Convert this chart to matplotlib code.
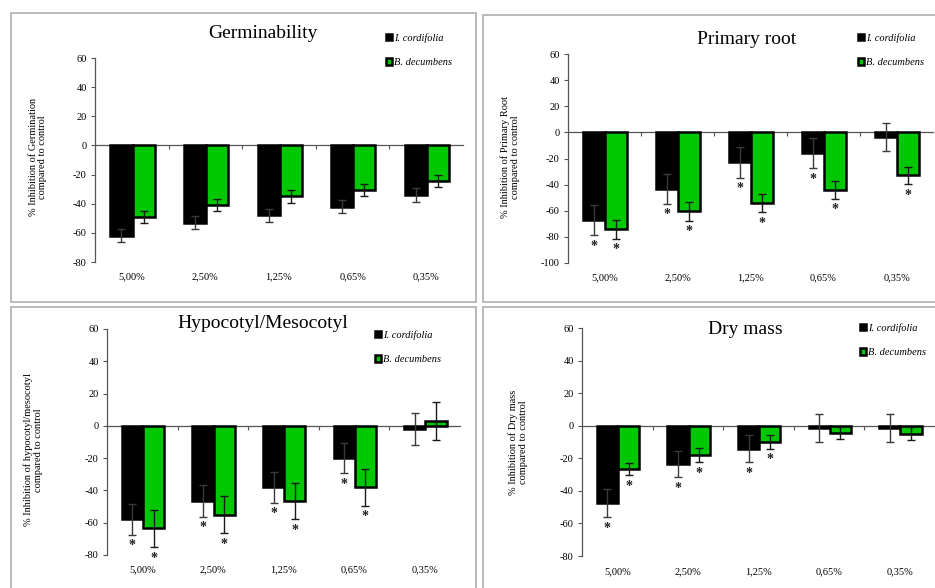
import matplotlib
matplotlib.use("Agg")
import matplotlib.pyplot as plt
from matplotlib.patches import Rectangle
import numpy as np

plt.rcParams['font.family'] = ['Liberation Serif', 'DejaVu Serif']
plt.rcParams['axes.unicode_minus'] = False

# concentrations
cats = ['5,00%', '2,50%', '1,25%', '0,65%', '0,35%']
species = ['I. cordifolia', 'B. decumbens']

# Germinability
germ_ic = [-62, -53, -48, -42, -34]
germ_ic_err = [4.5, 4.6, 4.4, 4.5, 4.8]
germ_bd = [-49, -41, -35, -30.5, -24.5]
germ_bd_err = [4.3, 4.3, 4.2, 4.0, 4.3]
germ_ic_star = [0, 0, 0, 0, 0]
germ_bd_star = [0, 0, 0, 0, 0]

# Primary root
root_ic = [-67, -43, -23, -16, -3.5]
root_ic_err = [11.5, 11.5, 11.7, 11.5, 11]
root_bd = [-74, -60.5, -54, -44, -33]
root_bd_err = [7.3, 7.2, 7.0, 6.8, 6.8]
root_ic_star = [1, 1, 1, 1, 0]
root_bd_star = [1, 1, 1, 1, 1]

# Hypocotyl/Mesocotyl
hypo_ic = [-58, -46.5, -38, -20, -2]
hypo_ic_err = [9.5, 9.7, 9.6, 9.5, 9.8]
hypo_bd = [-63.5, -55, -46.5, -38, 3]
hypo_bd_err = [11.5, 11.5, 11.3, 11.5, 11.5]
hypo_ic_star = [1, 1, 1, 1, 0]
hypo_bd_star = [1, 1, 1, 1, 0]

# Dry mass
dry_ic = [-47.5, -23.5, -14, -1.5, -1.5]
dry_ic_err = [8.6, 8.2, 8.4, 8.5, 8.5]
dry_bd = [-26.5, -18, -9.8, -4.5, -5]
dry_bd_err = [3.9, 4.5, 4.3, 3.8, 4.0]
dry_ic_star = [1, 1, 1, 0, 0]
dry_bd_star = [1, 1, 1, 0, 0]

W, H = 935, 588
fig = plt.figure(figsize=(W/100, H/100), dpi=100)

def px_axes(x1, y1, x2, y2):
    # pixel box (from top left) -> figure fraction axes
    return fig.add_axes([x1/W, 1-y2/H, (x2-x1)/W, (y2-y1)/H])

def frame(x1, y1, x2, y2):
    fig.patches.append(Rectangle((x1/W, 1-y2/H), (x2-x1)/W, (y2-y1)/H,
                                 transform=fig.transFigure, fill=False,
                                 ec='#b4b4b4', lw=1.3))

BLACK = '#000000'
GREEN = '#00c800'

def panel(box, ylim, ic, ic_err, bd, bd_err, ic_star, bd_star,
          title, tpos, ylabel, ylpos, legpos, xlab_y):
    ax = px_axes(*box)
    x = np.arange(len(cats))
    w = 0.3
    ax.bar(x-0.14, ic, w, color=BLACK, edgecolor=BLACK, lw=1.8,
           label=species[0], zorder=2)
    ax.bar(x+0.16, bd, w, color=GREEN, edgecolor=BLACK, lw=1.8,
           label=species[1], zorder=2)
    ax.errorbar(x-0.14, ic, yerr=ic_err, fmt='none', ecolor='#3a3a3a',
                elinewidth=1, capsize=3, capthick=1, zorder=3)
    ax.errorbar(x+0.16, bd, yerr=bd_err, fmt='none', ecolor='#1a1a1a',
                elinewidth=1, capsize=3, capthick=1, zorder=3)
    # significance stars
    for i in range(len(cats)):
        if ic_star[i]:
            ax.annotate('*', (x[i]-0.14, ic[i]-ic_err[i]), xytext=(0, -8),
                        textcoords='offset points', ha='center', va='center',
                        fontsize=10, fontweight='bold', color='#202020')
        if bd_star[i]:
            ax.annotate('*', (x[i]+0.16, bd[i]-bd_err[i]), xytext=(0, -8),
                        textcoords='offset points', ha='center', va='center',
                        fontsize=10, fontweight='bold', color='#202020')
    ax.set_xlim(-0.5, len(cats)-0.5)
    ax.set_ylim(*ylim)
    ax.set_yticks(np.arange(ylim[0], ylim[1]+1, 20))
    ax.tick_params(axis='y', labelsize=7.5, length=3, width=0.8, color='#555555', pad=3)
    ax.spines['left'].set_color('#555555')
    ax.spines['left'].set_linewidth(0.9)
    ax.spines['top'].set_visible(False)
    ax.spines['right'].set_visible(False)
    # category axis crosses at zero
    ax.spines['bottom'].set_position(('data', 0))
    ax.spines['bottom'].set_color('#555555')
    ax.spines['bottom'].set_linewidth(0.9)
    ax.spines['bottom'].set_zorder(1)
    ax.set_xticks(np.arange(0.5, len(cats)-0.5, 1))
    ax.set_xticklabels([])
    ax.tick_params(axis='x', length=3, width=0.8, color='#555555', direction='out')
    for i, c in enumerate(cats):
        fig.text((box[0] + (i+0.5)*(box[2]-box[0])/len(cats))/W, 1-xlab_y/H, c,
                 ha='center', va='center', fontsize=7.5)
    fig.text(tpos[0]/W, 1-tpos[1]/H, title, ha='center', va='center', fontsize=14)
    fig.text(ylpos[0]/W, 1-ylpos[1]/H, ylabel, ha='center', va='center',
             rotation=90, fontsize=7.5, linespacing=1.1)
    ax.legend(loc='upper left', bbox_to_anchor=(legpos[0]/W, 1-legpos[1]/H),
              bbox_transform=fig.transFigure, frameon=False,
              prop={'size': 7.5, 'style': 'italic'}, handlelength=0.6,
              handleheight=0.6, handletextpad=0.2, labelspacing=1.5,
              borderpad=0, borderaxespad=0)
    return ax

# panel frames
frame(11, 13, 476, 302)
frame(483, 15, 936, 302)
frame(11, 307, 476, 600)
frame(483, 307, 936, 600)

panel((95, 58, 463, 262), (-80, 60), germ_ic, germ_ic_err, germ_bd, germ_bd_err,
      germ_ic_star, germ_bd_star, 'Germinability', (263, 33),
      '% Inhibition of Germination\ncompared to control', (38, 157), (386, 33), 277)

panel((568, 54, 933, 263), (-100, 60), root_ic, root_ic_err, root_bd, root_bd_err,
      root_ic_star, root_bd_star, 'Primary root', (747, 40),
      '% Inhibition of Primary Root\ncompared to control', (510, 157), (858, 33), 278)

panel((107, 329, 460, 555), (-80, 60), hypo_ic, hypo_ic_err, hypo_bd, hypo_bd_err,
      hypo_ic_star, hypo_bd_star, 'Hypocotyl/Mesocotyl', (263, 324),
      '% Inhibition of hypocotyl/mesocotyl\ncompared to control', (33, 450), (375, 330), 570)

panel((582, 328, 935, 556), (-80, 60), dry_ic, dry_ic_err, dry_bd, dry_bd_err,
      dry_ic_star, dry_bd_star, 'Dry mass', (745, 330),
      '% Inhibition of Dry mass\ncompared to control', (518, 442), (860, 323), 572)

plt.savefig("out.png", dpi=100)
